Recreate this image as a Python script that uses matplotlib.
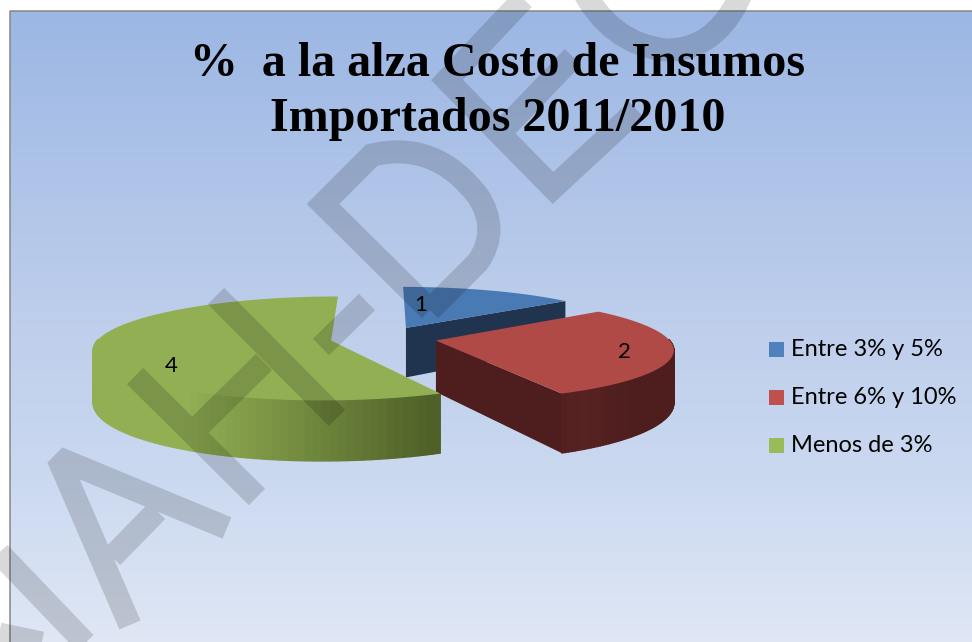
import numpy as np
import matplotlib
matplotlib.use("Agg")
import matplotlib.pyplot as plt
from matplotlib.patches import Polygon, Rectangle, PathPatch
from matplotlib.path import Path
from matplotlib.colors import to_rgb

title_lines = ["%  a la alza Costo de Insumos", "Importados 2011/2010"]
categories = ["Entre 3% y 5%", "Entre 6% y 10%", "Menos de 3%"]
values = [1, 2, 4]

top_colors = ["#4A7AB3", "#B04A46", "#92AF54"]
legend_colors = ["#4F81BD", "#C0504D", "#9BBB59"]
label_xy = [(421, 305), (624, 352), (171, 366)]

# camera used for the fake 3d pie, all in pixels
XV, YV = 383.5, 338
RX, RY = 232, 50
PERSP = 0.15
HEIGHT = 51
EXPLODE = 0.23


def project(x, y, z=0.0):
    s = 1 / (1 + PERSP * y)
    return XV + RX * x * s, YV - RY * y * s + z * HEIGHT * s


def rim(ox, oy, a, z=0.0):
    return project(ox + np.sin(a), oy + np.cos(a), z)


fig = plt.figure(figsize=(9.72, 6.42), dpi=100, facecolor="white")
ax = fig.add_axes([0, 0, 1, 1])
ax.axis("off")

# chart area background
rows = np.arange(11, 642)
stops_y = [11, 300, 480, 642]
stops = np.array([[156, 183, 228], [188, 205, 235], [203, 217, 240], [224, 231, 245]]) / 255
grad = np.stack([np.interp(rows, stops_y, stops[:, i]) for i in range(3)], axis=1)[:, None, :]
ax.imshow(grad, extent=(10, 972, 642, 11), aspect="auto", zorder=0)
ax.set_xlim(0, 972)
ax.set_ylim(642, 0)
ax.plot([10, 10, 972], [642, 11, 11], color="#868686", lw=1.1, zorder=1)

fractions = np.array(values) / sum(values)
ends = np.cumsum(fractions) * 2 * np.pi
starts = ends - fractions * 2 * np.pi

side_blue = "#20344F"
side_red = "#4E1E1E"
dark_green = np.array(to_rgb("#4F6128"))
light_green = np.array(to_rgb("#92AF54"))

# blue, then green, then red so the red top sits over the blue side
for i in [0, 2, 1]:
    a0, a1 = starts[i], ends[i]
    mid = (a0 + a1) / 2
    ox, oy = EXPLODE * np.sin(mid), EXPLODE * np.cos(mid)
    arc = np.linspace(a0, a1, 120)

    if i in (0, 1):
        # radial face on the closing edge
        face = [project(ox, oy), rim(ox, oy, a1), rim(ox, oy, a1, 1), project(ox, oy, 1)]
        ax.add_patch(Polygon(face, closed=True, fc=side_blue if i == 0 else side_red, ec="none", zorder=3))

    # outer wall, only the part that faces the viewer
    for a, b in zip(arc[:-1], arc[1:]):
        if np.cos((a + b) / 2) > 0.02:
            continue
        quad = [rim(ox, oy, a), rim(ox, oy, b), rim(ox, oy, b, 1), rim(ox, oy, a, 1)]
        if i == 2:
            t = np.clip((quad[0][0] - 190) / (433 - 190), 0, 1)
            col = light_green * (1 - t) + dark_green * t
        elif i == 1:
            col = np.array(to_rgb(side_red)) * (1 + 0.12 * np.exp(-((quad[0][0] - 585) / 25) ** 2))
        else:
            col = side_blue
        ax.add_patch(Polygon(quad, closed=True, fc=col, ec=col, lw=1.0, zorder=3))

    top = [project(ox, oy)] + [rim(ox, oy, a) for a in arc]
    ax.add_patch(Polygon(top, closed=True, fc=top_colors[i], ec="none", zorder=4))
    ax.text(label_xy[i][0], label_xy[i][1], str(values[i]), family="Lato", fontsize=16,
            ha="center", va="center", color="black", zorder=5)

# legend
for i, name in enumerate(categories):
    y = 349.5 + 48 * i
    ax.add_patch(Rectangle((769, y - 7.5), 15, 15, fc=legend_colors[i], ec="none", zorder=5))
    ax.text(791, y, name, family="Lato", fontsize=17, ha="left", va="center", color="black", zorder=5)

ax.text(497, 76, title_lines[0], family="Liberation Serif", weight="bold", fontsize=34.6,
        ha="center", va="baseline", color="black", zorder=5)
ax.text(497.5, 131, title_lines[1], family="Liberation Serif", weight="bold", fontsize=34.6,
        ha="center", va="baseline", color="black", zorder=5)

# diagonal watermark over everything, one stroked path so crossings do not get darker
M, L, Q = Path.MOVETO, Path.LINETO, Path.CURVE3
wm = [
    # M (corner)
    ((-20, 533), M), ((92, 650), L),
    ((-20, 630), M), ((75, 650), L),
    # H
    ((216, 296), M), ((337, 418), L),
    ((135, 376), M), ((257, 497), L),
    ((200, 425), M), ((264, 362), L),
    # hyphen
    ((367, 302), M), ((321, 347), L),
    # D
    ((430, 310), M), ((478, 262), L), ((500, 230), Q), ((478, 196), Q),
    ((435, 140), Q), ((372, 155), Q), ((323, 204), L), ((430, 310), L),
    # E
    ((530, -8), M), ((447, 80), L), ((553, 188), L), ((637, 110), L),
    ((500, 133), M), ((573, 57), L),
    # O
    ((580, -15), M), ((610, 45), Q), ((667, 50), Q), ((720, 50), Q), ((745, -15), Q),
]
ax.add_patch(PathPatch(Path([p for p, c in wm], [c for p, c in wm]), fc="none", ec=(0, 0, 0, 0.15),
                       lw=23 * 0.72, capstyle="butt", joinstyle="miter", zorder=6))

# the A has a flat top, so it gets its own bevelled path
wm_a = [
    ((130, 625), M), ((58, 458), L), ((227, 528), L),
    ((157, 511), M), ((112, 557), L),
]
ax.add_patch(PathPatch(Path([p for p, c in wm_a], [c for p, c in wm_a]), fc="none", ec=(0, 0, 0, 0.15),
                       lw=23 * 0.72, capstyle="butt", joinstyle="bevel", zorder=6))

fig.savefig("out.png", dpi=100)
